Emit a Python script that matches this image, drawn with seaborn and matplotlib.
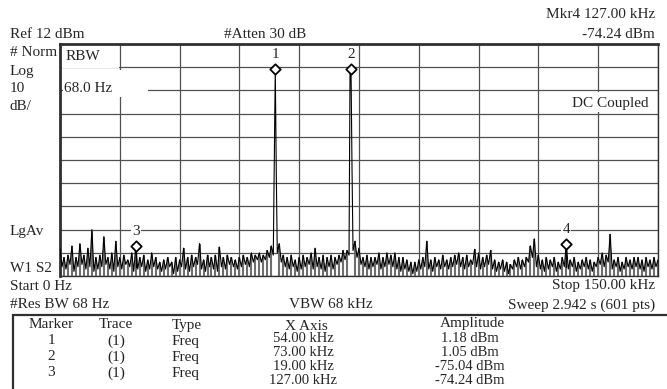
import numpy as np
import pandas as pd
import matplotlib
matplotlib.use("Agg")
import matplotlib.pyplot as plt
import seaborn as sns
from matplotlib.patches import Rectangle

# ---------------- data ----------------
# trace value at every whole kHz, 0 ... 150 kHz (dBm)
trace_peak_dbm = [
    -76, -80, -79, -75, -80, -74, -79, -76, -68, -80,
    -79, -71, -80, -78, -73, -80, -79, -81, -78, -75.04,
    -80, -79, -81, -78, -80, -82, -81, -80, -82, -80,
    -81, -76, -80, -79, -80, -74, -81, -79, -80, -79,
    -75.5, -80, -79, -80, -81, -80, -79, -80, -78, -79,
    -78, -79, -77, -75, 1.18, -74, -79, -80, -79, -81,
    -80, -79, -80, -78, -76, -80, -79, -80, -79, -80,
    -79, -77, -77, 1.05, -73, -76, -80, -79, -80, -80,
    -78, -80, -78, -79, -78, -80, -80, -81, -82, -82,
    -81, -80, -73, -81, -80, -81, -79, -81, -80, -79,
    -78, -80, -79, -81, -76.5, -78, -80, -79, -77, -81,
    -82, -81, -82, -83, -81, -80, -81, -80, -75, -72,
    -79, -81, -80, -81, -80, -82, -80, -74.24, -81, -80,
    -82, -81, -80, -81, -82, -80, -78, -79, -70, -81,
    -80, -82, -80, -81, -80, -80, -81, -80, -81, -80,
    -81,
]
# trace value between whole kHz (0.5 ... 149.5 kHz)
trace_low_dbm = [
    -84, -85, -83, -86, -84, -83, -85, -84, -86, -85,
    -84, -83, -85, -86, -84, -85, -83, -84, -86, -85,
    -84, -86, -85, -84, -85,
    -86, -85, -84, -87, -86, -84, -85, -86, -84, -83,
    -85, -86, -84, -85, -86, -84, -85, -83, -84, -85,
    -84, -83, -84, -82, -81,
    -82, -81, -80, -79, -78, -82, -84, -85, -84, -86,
    -85, -84, -83, -85, -84, -85, -86, -84, -85, -83,
    -82, -81, -79, -77, -80,
    -83, -84, -85, -84, -83, -85, -84, -83, -84, -85,
    -86, -85, -86, -87, -86, -85, -84, -85, -86, -84,
    -85, -84, -85, -84, -83,
    -84, -85, -84, -83, -84, -85, -84, -83, -85, -86,
    -85, -86, -87, -85, -84, -85, -84, -82, -80, -84,
    -85, -86, -85, -84, -86,
    -85, -84, -85, -84, -86, -85, -84, -85, -86, -84,
    -83, -84, -82, -85, -84, -86, -85, -84, -85, -84,
    -85, -86, -84, -85, -84,
]
# carrier skirts (points next to the two tones)
skirt_freq_khz = [53.75, 54.25, 72.75, 73.25]
skirt_dbm = [-37, -43, 0.4, -42]

marker_ids = [1, 2, 3, 4]
marker_freq_khz = [54.0, 73.0, 19.0, 127.0]
marker_dbm = [1.18, 1.05, -75.04, -74.24]

ref_dbm = 12
db_per_div = 10
span_khz = 150

# ---------------- build trace ----------------
peak_df = pd.DataFrame({"freq": np.arange(len(trace_peak_dbm)) * 1.0, "dbm": trace_peak_dbm})
df = pd.concat([
    peak_df,
    pd.DataFrame({"freq": np.arange(len(trace_low_dbm)) + 0.5, "dbm": trace_low_dbm}),
    pd.DataFrame({"freq": skirt_freq_khz, "dbm": skirt_dbm}),
]).sort_values("freq").reset_index(drop=True)

sns.set_style("white")
plt.rcParams["font.family"] = ["Liberation Serif", "DejaVu Serif"]

W, H = 667, 389
fig = plt.figure(figsize=(W / 100, H / 100), dpi=100)
L, R, T, B = 60, 658, 44, 276
ax = fig.add_axes([L / W, 1 - B / H, (R - L) / W, (B - T) / H])

bottom = ref_dbm - 10 * db_per_div
ax.set_xlim(0, span_khz)
ax.set_ylim(bottom, ref_dbm)
ax.set_xticks(np.linspace(0, span_khz, 11))
ax.set_yticks(np.linspace(bottom, ref_dbm, 11))
ax.set_xticklabels([])
ax.set_yticklabels([])
ax.tick_params(length=0)
ax.set_axisbelow(True)
ax.grid(True, color="#505050", lw=0.9)
for s in ax.spines.values():
    s.set_color("#303030")
    s.set_linewidth(1.0)
ax.spines["top"].set_linewidth(2.0)
ax.spines["left"].set_linewidth(2.0)

# grey striped fill under the trace (display of the dense sweep)
noise = peak_df[peak_df["dbm"] < -60]
ax.vlines(noise["freq"], bottom, noise["dbm"], color="#6e6e6e",
          lw=1.5, zorder=2.5)
sns.lineplot(data=df, x="freq", y="dbm", ax=ax, color="black", lw=0.8,
             estimator=None, sort=True, zorder=3)
ax.set_xlabel("")
ax.set_ylabel("")

# markers
sns.scatterplot(x=marker_freq_khz, y=marker_dbm, ax=ax, marker="D", s=28,
                facecolor="white", edgecolor="black", linewidth=1.3, zorder=6)
for mid, f, a in zip(marker_ids, marker_freq_khz, marker_dbm):
    if a < -50:
        ax.plot([f, f], [bottom + 4, a], color="black", lw=0.9, zorder=5)
        ax.text(f, a + 6.2, str(mid), ha="center", va="center", fontsize=11,
                zorder=7, bbox=dict(fc="white", ec="none", pad=1.0))
    else:
        ax.text(f, a + 6.3, str(mid), ha="center", va="center", fontsize=11, zorder=7)

# white label boxes inside graticule
def box(x0, y0, x1, y1):
    ax.add_patch(Rectangle(((x0 - L) / (R - L), (B - y1) / (B - T)),
                           (x1 - x0) / (R - L), (y1 - y0) / (B - T),
                           transform=ax.transAxes, fc="white", ec="none", zorder=2))

box(62, 45, 119, 68)
box(63, 70, 148, 97)
box(567, 92, 656, 112)

def ptext(x, y, s, ha="left", size=11, **kw):
    fig.text(x / W, 1 - y / H, s, ha=ha, va="center", fontsize=size, **kw)

ptext(66, 57, "RBW", zorder=8)
ptext(64, 89, "68.0 Hz", zorder=8)
ptext(572, 103, "DC Coupled", zorder=8)

ptext(655, 15, "Mkr4 127.00 kHz", ha="right")
ptext(655, 34, "-74.24 dBm", ha="right")
ptext(10, 34, "Ref 12 dBm")
ptext(224, 34, "#Atten 30 dB")
ptext(10, 52, "# Norm")
ptext(10, 72, "Log")
ptext(10, 89, "10")
ptext(10, 107, "dB/")
ptext(10, 232, "LgAv")
ptext(10, 268, "W1 S2")
ptext(10, 286, "Start 0 Hz")
ptext(655, 286, "Stop 150.00 kHz", ha="right")
ptext(10, 305, "#Res BW 68 Hz")
ptext(331, 305, "VBW 68 kHz", ha="center")
ptext(655, 305, "Sweep 2.942 s (601 pts)", ha="right")

# marker table
fig.add_artist(Rectangle((13 / W, -0.05), (W + 10) / W, 1.05 - 315 / H,
                         transform=fig.transFigure, fc="none", ec="#303030", lw=1.6))
ptext(51, 325, "Marker", ha="center")
ptext(116, 325, "Trace", ha="center")
ptext(172, 325, "Type")
ptext(306, 327, "X Axis", ha="center")
ptext(472, 324, "Amplitude", ha="center")
row_y = [341, 357, 373]
for mid, y in zip(marker_ids[:3], row_y):
    ptext(51, y, str(mid), ha="center")
    ptext(116, y, "(1)", ha="center")
    ptext(172, y, "Freq")
val_y = [339, 352, 366, 381]
for f, a, y in zip(marker_freq_khz, marker_dbm, val_y):
    ptext(303, y, f"{f:.2f} kHz", ha="center", size=10.5)
    ptext(470, y, f"{a:.2f} dBm", ha="center", size=10.5)

fig.savefig("out.png", dpi=100)
